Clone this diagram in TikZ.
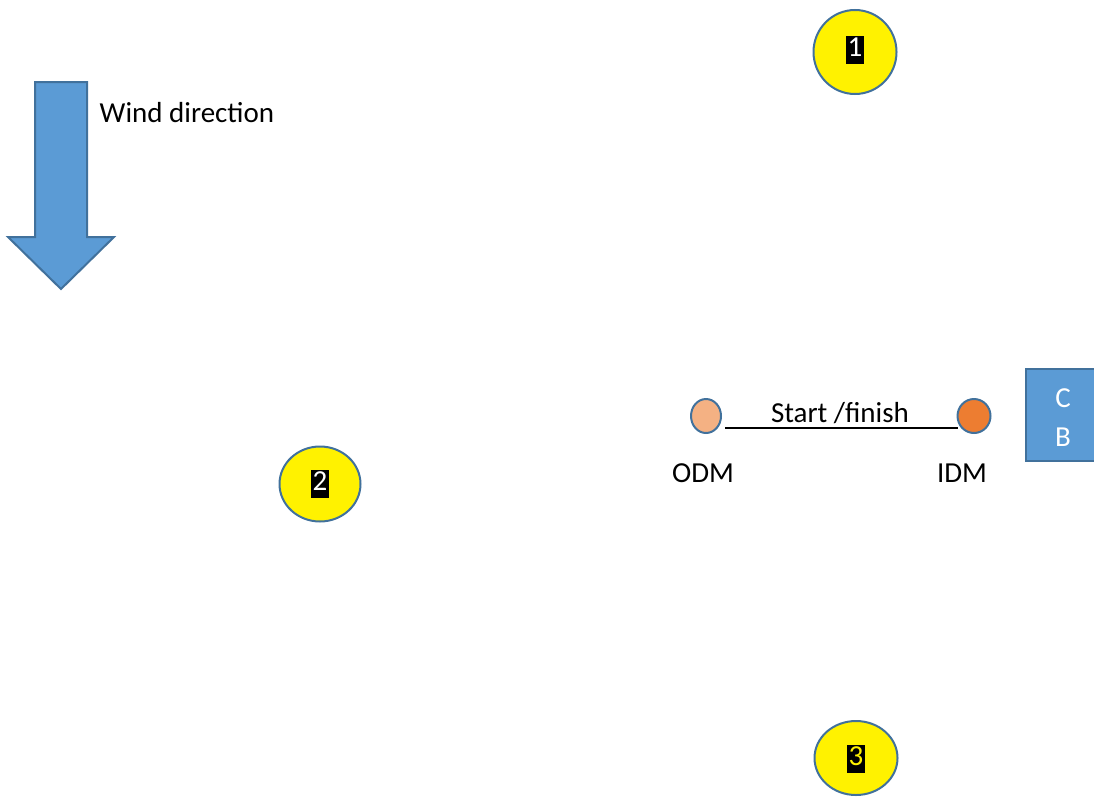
\documentclass[tikz,border=0pt]{standalone}
\usepackage{fontspec}
\setmainfont{Carlito}
\usetikzlibrary{shapes.geometric}
\definecolor{bluefill}{HTML}{5B9BD5}
\definecolor{bluestroke}{HTML}{41719C}
\definecolor{odmfill}{HTML}{F4B183}
\definecolor{idmfill}{HTML}{ED7D31}
\begin{document}
\begin{tikzpicture}[x=0.75pt,y=-0.75pt,
  every node/.style={font=\fontsize{21.75}{26}\selectfont},
  buoy/.style={ellipse,draw=bluestroke,line width=1.5pt,fill=yellow},
  numtag/.style={fill=black,inner xsep=1pt,inner ysep=0pt,text height=15.5pt,text depth=5.5pt,text=white},
  dot/.style={ellipse,draw=bluestroke,line width=1.5pt,inner sep=0pt}]
\useasboundingbox (0,0) rectangle (1094,796);
% wind arrow
\draw[fill=bluefill,draw=bluestroke,line width=1.5pt,line join=miter]
  (35,82) -- (87,82) -- (87,237) -- (114,237) -- (61,289) -- (8,237) -- (35,237) -- cycle;
\node[anchor=west] (wind) at (95,113) {Wind direction};
% marks
\node[buoy,minimum width=83*0.75pt,minimum height=84*0.75pt] (m1) at (855,52) {};
\node[numtag] (n1) at (855,50) {1};
\node[buoy,minimum width=81*0.75pt,minimum height=75*0.75pt] (m2) at (320,484) {};
\node[numtag] (n2) at (320,484) {2};
\node[buoy,minimum width=83*0.75pt,minimum height=74*0.75pt] (m3) at (856,758) {};
\node[numtag,text=yellow] (n3) at (856,759) {3};
% start/finish
\node[dot,fill=odmfill,minimum width=30*0.75pt,minimum height=34*0.75pt] (odm) at (706,416) {};
\node[dot,fill=idmfill,minimum width=33*0.75pt,minimum height=34*0.75pt] (idm) at (974,416) {};
\node[anchor=base] (sf) at (840,422) {Start /finish};
\coordinate (ul1) at (725,428);
\coordinate (ul2) at (958,428);
\draw[line width=1.5pt] (ul1) -- (ul2);
\node (odml) at (703,473) {ODM};
\node (idml) at (962,473) {IDM};
% CB box
\node[draw=bluestroke,fill=bluefill,line width=1.5pt,minimum width=80*0.75pt,minimum height=92*0.75pt,anchor=north west] (cb) at (1025,368) {};
\node[text=white] (c) at (1063,398) {C};
\node[text=white] (b) at (1063,437) {B};
\end{tikzpicture}
\end{document}
